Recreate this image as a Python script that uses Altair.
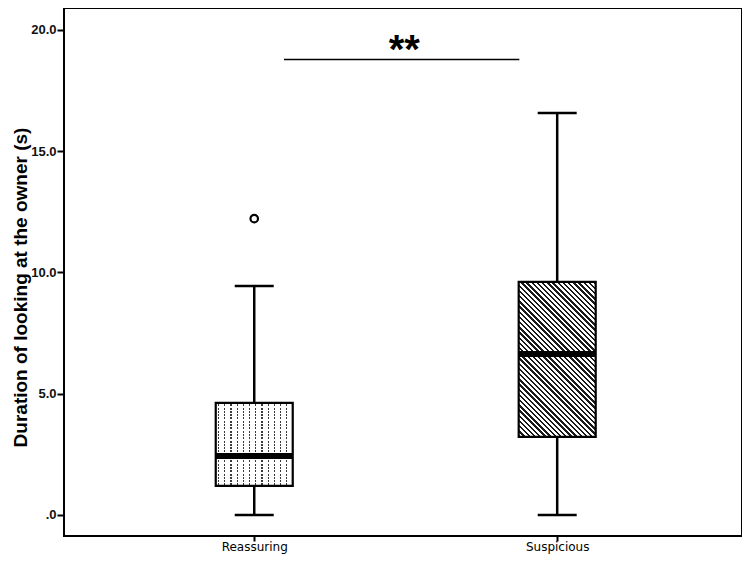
import altair as alt
import pandas as pd

# ---- data ----
groups = ["Reassuring", "Suspicious"]
group_pos = [1, 2]
whisker_low = [0.0, 0.0]
q1 = [1.20, 3.22]
median = [2.43, 6.64]
q3 = [4.62, 9.61]
whisker_high = [9.44, 16.58]
outlier_group = ["Reassuring"]
outlier_value = [12.22]

y_tick_values = [0, 5, 10, 15, 20]
y_tick_labels = [".0", "5.0", "10.0", "15.0", "20.0"]

sig_x = [1.098, 1.875]
sig_y = 18.78
sig_text = "**"
star_x = 1.495
star_y = 19.15

# ---- layout ----
W, H = 678, 528
x_dom = [0.3886, 2.5935]
y_dom = [-0.866, 20.907]
BOX_W = 77
CAP_W = 39
FONT = "Liberation Sans"
XFONT = "DejaVu Sans"

px_per_y = H / (y_dom[1] - y_dom[0])

df = pd.DataFrame({
    "group": groups, "pos": group_pos, "lo": whisker_low, "q1": q1,
    "med": median, "q3": q3, "hi": whisker_high,
})
out_df = pd.DataFrame({
    "pos": [group_pos[groups.index(g)] for g in outlier_group],
    "v": outlier_value,
})
sig_df = pd.DataFrame({"x": [sig_x[0]], "x2": [sig_x[1]], "y": [sig_y]})
star_df = pd.DataFrame({"x": [star_x], "y": [star_y], "t": [sig_text]})


def stripes(n, frac, start, c_on, c_off):
    stops = []
    for k in range(int(n) + 2):
        a = (k + start) / n
        b = (k + start + frac) / n
        c = (k + 1) / n
        for off, col in ((k / n, c_off), (a, c_off), (a, c_on), (b, c_on), (b, c_off), (c, c_off)):
            if 0 <= off <= 1:
                stops.append(alt.GradientStop(color=col, offset=round(off, 5)))
    return stops


# Suspicious: diagonal hatch (\\\)
w_s = BOX_W
h_s = (q3[1] - q1[1]) * px_per_y
s = (w_s + h_s) / (w_s ** 2 + h_s ** 2)
n_diag = (w_s + h_s) / 5.2
hatch = alt.Gradient(
    gradient="linear", x1=0, y1=1, x2=s * w_s, y2=1 - s * h_s,
    stops=stripes(n_diag, 0.45, 0.0, "#1a1a1a", "#ffffff"),
)

# Reassuring: dotted vertical lines
n_vert = BOX_W / 6.2
vlines = alt.Gradient(
    gradient="linear", x1=0, y1=0, x2=1, y2=0,
    stops=stripes(n_vert, 0.22, 0.35, "#3a3a3a", "#ffffff"),
)
h_r = (q3[0] - q1[0]) * px_per_y
n_dots = h_r / 3.3
dots = alt.Gradient(
    gradient="linear", x1=0, y1=0, x2=0, y2=1,
    stops=stripes(n_dots, 0.38, 0.0, "rgba(255,255,255,1)", "rgba(255,255,255,0)"),
)

labels_expr = " : ".join(
    f"datum.value == {p} ? '{g}'" for p, g in zip(group_pos[:-1], groups[:-1])
) + f" : '{groups[-1]}'"
ylab_expr = "".join(
    f"datum.value == {v} ? '{t}' : " for v, t in zip(y_tick_values, y_tick_labels)
) + "''"

xs = alt.Scale(domain=x_dom, nice=False, zero=False)
ys = alt.Scale(domain=y_dom, nice=False, zero=False)

X = alt.X("pos:Q", scale=xs, axis=alt.Axis(
    values=group_pos, labelExpr=labels_expr, title=None, grid=False, domain=False,
    tickSize=5, tickWidth=2, tickColor="black", labelFontSize=12, labelFont=XFONT,
    labelColor="black", labelPadding=0))
Y = alt.Y("q1:Q", scale=ys, axis=alt.Axis(
    values=y_tick_values, labelExpr=ylab_expr,
    title="Duration of looking at the owner (s)", grid=False, domain=False,
    tickSize=7, tickWidth=2, tickColor="black", labelFontSize=13,
    labelFontWeight="bold", labelFont=FONT, labelColor="#111", labelPadding=1,
    titleFont=FONT, titleFontSize=19, titleFontWeight="bold", titleColor="black",
    titleAngle=270, titleAlign="center", titleBaseline="alphabetic",
    titleX=-38, titleY=279))

base = alt.Chart(df)

whisk_lo = base.mark_rule(color="black", strokeWidth=2.5).encode(
    x=X, y=Y, y2="lo:Q")
whisk_hi = base.mark_rule(color="black", strokeWidth=2.5).encode(
    x=X, y=alt.Y("q3:Q", scale=ys), y2="hi:Q")
cap_lo = base.mark_tick(orient="horizontal", color="black", thickness=2.5,
                        size=CAP_W, opacity=1).encode(x=X, y=alt.Y("lo:Q", scale=ys))
cap_hi = base.mark_tick(orient="horizontal", color="black", thickness=2.5,
                        size=CAP_W, opacity=1).encode(x=X, y=alt.Y("hi:Q", scale=ys))

box_r1 = base.transform_filter(alt.datum.group == groups[0]).mark_bar(
    size=BOX_W, fill=vlines, strokeWidth=0, opacity=1).encode(
    x=X, y=alt.Y("q1:Q", scale=ys), y2="q3:Q")
box_r2 = base.transform_filter(alt.datum.group == groups[0]).mark_bar(
    size=BOX_W, fill=dots, stroke="black", strokeWidth=2.2, opacity=1).encode(
    x=X, y=alt.Y("q1:Q", scale=ys), y2="q3:Q")
box_s = base.transform_filter(alt.datum.group == groups[1]).mark_bar(
    size=BOX_W, fill=hatch, stroke="black", strokeWidth=2.2, opacity=1).encode(
    x=X, y=alt.Y("q1:Q", scale=ys), y2="q3:Q")

med = base.mark_tick(orient="horizontal", color="black", thickness=6,
                     size=BOX_W, opacity=1).encode(x=X, y=alt.Y("med:Q", scale=ys))

outl = alt.Chart(out_df).mark_point(shape="circle", filled=True, fill="white",
                                    stroke="black", strokeWidth=2.2, size=56,
                                    opacity=1).encode(
    x=alt.X("pos:Q", scale=xs), y=alt.Y("v:Q", scale=ys))

sig = alt.Chart(sig_df).mark_rule(color="black", strokeWidth=1.5).encode(
    x=alt.X("x:Q", scale=xs), x2="x2:Q", y=alt.Y("y:Q", scale=ys))
star = alt.Chart(star_df).mark_text(font=FONT, fontSize=40, fontWeight="bold",
                                    baseline="middle", align="center",
                                    color="black").encode(
    x=alt.X("x:Q", scale=xs), y=alt.Y("y:Q", scale=ys), text="t:N")

chart = alt.layer(
    whisk_lo, whisk_hi, cap_lo, cap_hi, box_r1, box_r2, box_s, med, outl, sig, star
).properties(
    width=W, height=H,
    autosize=alt.AutoSizeParams(type="none"),
    padding={"left": 56, "top": 0, "right": 0, "bottom": 20},
    background="white",
).configure_view(stroke="black", strokeWidth=2)

chart.save("out.html", embed_options={"renderer": "svg", "actions": False})
